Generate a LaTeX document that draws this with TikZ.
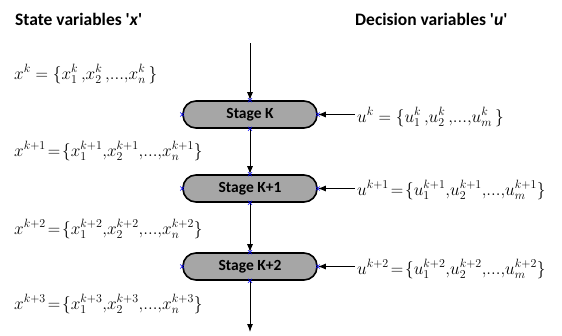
\documentclass[tikz,border=0pt]{standalone}
\usepackage{fontspec}
\setsansfont{Carlito}
\usetikzlibrary{arrows.meta,calc}
\tikzset{
  stagebox/.style={draw=black, line width=1.6pt, fill=gray!70, rounded corners=13pt,
    minimum width=134pt, minimum height=27pt, inner sep=0pt,
    font=\sffamily\bfseries\fontsize{15.5}{18}\selectfont},
  flow/.style={-{Latex[length=8pt,width=6pt]}, line width=1pt},
  title/.style={font=\sffamily\bfseries\fontsize{17.5}{20}\selectfont, anchor=west, inner sep=0pt},
  eq/.style={font=\fontsize{17.5}{20}\selectfont, anchor=west, inner sep=0pt},
  cpt/.style={blue, line width=0.6pt}
}
\newcommand{\cmark}[1]{\draw[cpt] ($(#1)+(-2,-2)$) -- ($(#1)+(2,2)$) ($(#1)+(-2,2)$) -- ($(#1)+(2,-2)$);}
\newcommand{\tighteq}{\thickmuskip=2mu\relax}
\newcommand{\dd}{{.}{.}{.}}
\begin{document}
\begin{tikzpicture}[x=1pt,y=-1pt]
\useasboundingbox (0,0) rectangle (562,335);
\node[title] (tx) at (15,19) {State variables \textquotesingle\textit{x}\textquotesingle};
\node[title] (tu) at (355,19) {Decision variables \textquotesingle\textit{u}\textquotesingle};

\coordinate (top) at (250,43);
\coordinate (bot) at (250,332);
\node[stagebox] (s1) at (250,114.5) {Stage K};
\node[stagebox] (s2) at (250,188.5) {Stage K+1};
\node[stagebox] (s3) at (250,266.5) {Stage K+2};

\draw[flow] (top) -- (s1.north);
\draw[flow] (s1.south) -- (s2.north);
\draw[flow] (s2.south) -- (s3.north);
\draw[flow] (s3.south) -- (bot);

\node[eq] (x0) at (14,74) {$x^k =\{x_1^k\,{,}x_2^k\,{,}\dd{,}x_n^k\,\}$};
\node[eq] (x1) at (14,151) {$\tighteq x^{k+1}=\{x_1^{k+1}{,}x_2^{k+1}{,}\dd{,}x_n^{k+1}\}$};
\node[eq] (x2) at (14,229) {$\tighteq x^{k+2}=\{x_1^{k+2}{,}x_2^{k+2}{,}\dd{,}x_n^{k+2}\}$};
\node[eq] (x3) at (14,304) {$\tighteq x^{k+3}=\{x_1^{k+3}{,}x_2^{k+3}{,}\dd{,}x_n^{k+3}\}$};

\node[eq] (u0) at (357,117) {$u^k =\{u_1^k\,{,}u_2^k\,{,}\dd{,}u_m^k\,\}$};
\node[eq] (u1) at (357,190) {$\tighteq u^{k+1}=\{u_1^{k+1}{,}u_2^{k+1}{,}\dd{,}u_m^{k+1}\}$};
\node[eq] (u2) at (357,269) {$\tighteq u^{k+2}=\{u_1^{k+2}{,}u_2^{k+2}{,}\dd{,}u_m^{k+2}\}$};

\draw[flow] (u0.west |- s1.east) ++(-2,0) coordinate (a0) (a0) -- (s1.east);
\draw[flow] (u1.west |- s2.east) ++(-2,0) coordinate (a1) (a1) -- (s2.east);
\draw[flow] (u2.west |- s3.east) ++(-2,0) coordinate (a2) (a2) -- (s3.east);

\foreach \s in {s1,s2,s3}{
  \cmark{\s.north}\cmark{\s.south}\cmark{\s.west}\cmark{\s.east}
}
\end{tikzpicture}
\end{document}
